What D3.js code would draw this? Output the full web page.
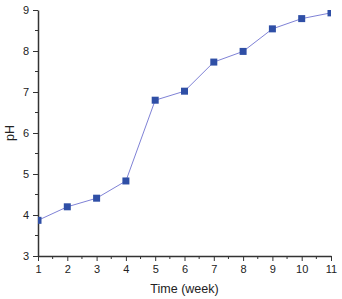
<!DOCTYPE html>
<html>
<head>
<meta charset="utf-8">
<script src="https://cdn.jsdelivr.net/npm/d3@7"></script>
<style>
  body { margin: 0; background: #fff; }
  text { font-family: "Liberation Sans", Arial, sans-serif; fill: #222; }
</style>
</head>
<body>
<div id="chart"></div>
<script>
// pH over time
const weeks = [1, 2, 3, 4, 5, 6, 7, 8, 9, 10, 11];
const ph = [3.87, 4.2, 4.41, 4.83, 6.8, 7.02, 7.73, 7.99, 8.54, 8.79, 8.93];
const xTicks = [1, 2, 3, 4, 5, 6, 7, 8, 9, 10, 11];
const yTicks = [3, 4, 5, 6, 7, 8, 9];

const width = 342, height = 299;
const margin = {left: 38, right: 11, top: 10, bottom: 43};
const w = width - margin.left - margin.right,
      h = height - margin.top - margin.bottom;

const x = d3.scaleLinear().domain([1, 11]).range([0, w]);
const y = d3.scaleLinear().domain([3, 9]).range([h, 0]);

const svg = d3.select('#chart').append('svg').attr('width', width).attr('height', height);
const g = svg.append('g').attr('transform', 'translate(' + margin.left + ',' + margin.top + ')');

svg.append('defs').append('clipPath').attr('id', 'plot')
    .append('rect').attr('width', w).attr('height', h);

// minor ticks
const xMinor = d3.range(1.5, 11, 1);
const yMinor = d3.range(3.5, 9, 1);
g.append('g').selectAll('line').data(xMinor).enter().append('line')
    .attr('x1', d => x(d)).attr('x2', d => x(d))
    .attr('y1', h).attr('y2', h + 3)
    .attr('stroke', '#333').attr('stroke-width', 1);
g.append('g').selectAll('line').data(yMinor).enter().append('line')
    .attr('y1', d => y(d)).attr('y2', d => y(d))
    .attr('x1', 0).attr('x2', -3)
    .attr('stroke', '#333').attr('stroke-width', 1);

const xAxis = g.append('g')
    .attr('transform', 'translate(0,' + h + ')')
    .call(d3.axisBottom(x).tickValues(xTicks).tickFormat(d3.format('d')).tickSize(5).tickSizeOuter(0).tickPadding(4));
const yAxis = g.append('g')
    .call(d3.axisLeft(y).tickValues(yTicks).tickFormat(d3.format('d')).tickSize(5).tickSizeOuter(0).tickPadding(4));

[xAxis, yAxis].forEach(a => {
    a.select('.domain').attr('stroke', '#333').attr('stroke-width', 1.5);
    a.selectAll('.tick line').attr('stroke', '#333').attr('stroke-width', 1);
    a.selectAll('.tick text').style('font-size', '11px').style('font-family', '"Liberation Sans", Arial, sans-serif');
});

const pts = weeks.map((d, i) => ({w: d, v: ph[i]}));
const line = d3.line().x(d => x(d.w)).y(d => y(d.v));

const plot = g.append('g').attr('clip-path', 'url(#plot)');
plot.append('path').datum(pts)
    .attr('d', line)
    .attr('fill', 'none')
    .attr('stroke', '#7f82d6')
    .attr('stroke-width', 1);
plot.selectAll('rect.pt').data(pts).enter().append('rect')
    .attr('class', 'pt')
    .attr('x', d => x(d.w) - 3.5).attr('y', d => y(d.v) - 3.5)
    .attr('width', 7).attr('height', 7)
    .attr('fill', '#2f4fa6');

// axis titles
svg.append('text')
    .attr('x', margin.left + w / 2).attr('y', 293)
    .attr('text-anchor', 'middle')
    .style('font-size', '12.5px')
    .text('Time (week)');
svg.append('text')
    .attr('transform', 'translate(14,' + (margin.top + h / 2) + ') rotate(-90)')
    .attr('text-anchor', 'middle')
    .style('font-size', '12.5px')
    .text('pH');
</script>
</body>
</html>
